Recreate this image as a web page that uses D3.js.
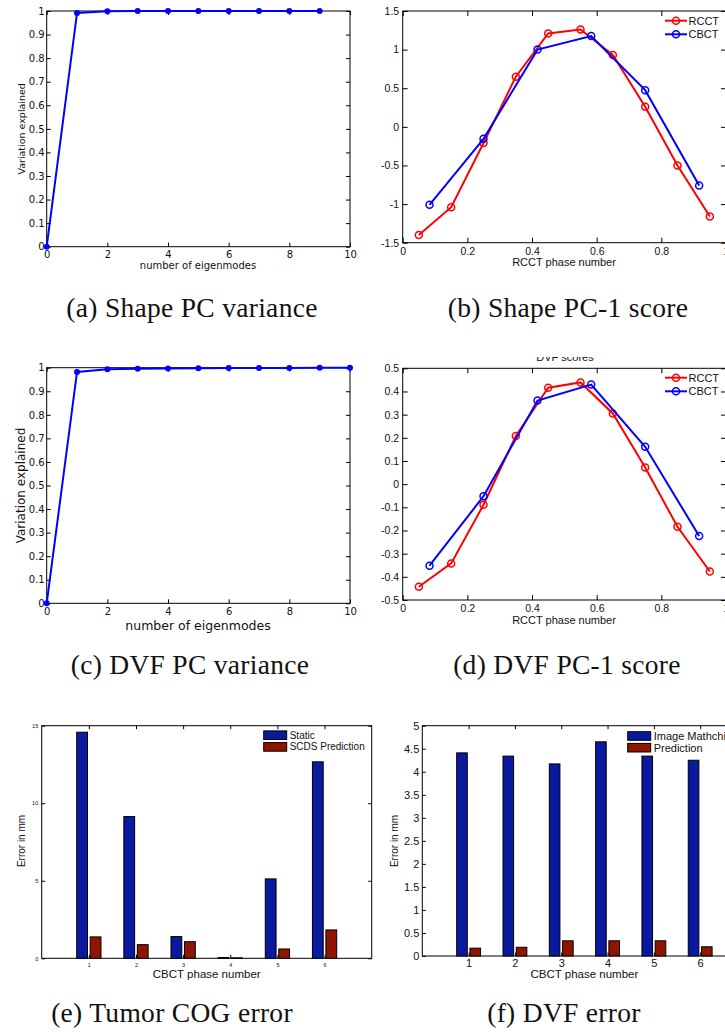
<!DOCTYPE html>
<html>
<head>
<meta charset="utf-8">
<script src="https://cdn.jsdelivr.net/npm/d3@7"></script>
<style>
  body { margin: 0; background: #fff; }
  svg { display: block; }
</style>
</head>
<body>
<svg id="fig" width="725" height="1036"></svg>
<script>
// ---- data ----
var modesShape = [0, 1, 2, 3, 4, 5, 6, 7, 8, 9];
var varShape = [0, 0.992, 0.999, 1.0, 1.0, 1.0, 1.0, 1.0, 1.0, 1.0];
var modesDVF = [0, 1, 2, 3, 4, 5, 6, 7, 8, 9, 10];
var varDVF = [0, 0.982, 0.993, 0.996, 0.997, 0.998, 0.999, 0.999, 0.999, 1.0, 1.0];

var rcctPhase = [0.05, 0.15, 0.25, 0.35, 0.45, 0.55, 0.65, 0.75, 0.85, 0.95];
var cbctPhase = [0.083, 0.25, 0.417, 0.583, 0.75, 0.917];
var shapeRCCT = [-1.40, -1.04, -0.21, 0.65, 1.21, 1.26, 0.93, 0.26, -0.50, -1.16];
var shapeCBCT = [-1.01, -0.155, 1.0, 1.175, 0.475, -0.76];
var dvfRCCT = [-0.443, -0.342, -0.089, 0.208, 0.416, 0.439, 0.305, 0.072, -0.184, -0.377];
var dvfCBCT = [-0.352, -0.052, 0.361, 0.430, 0.161, -0.224];

var cbctPhases = [1, 2, 3, 4, 5, 6];
var cogStatic = [14.58, 9.14, 1.40, 0.05, 5.12, 12.67];
var cogSCDS = [1.38, 0.88, 1.07, 0.03, 0.60, 1.83];
var dvfMatch = [4.41, 4.34, 4.17, 4.65, 4.34, 4.25];
var dvfPred = [0.17, 0.19, 0.33, 0.33, 0.33, 0.20];

var captions = ['(a) Shape PC variance', '(b) Shape PC-1 score', '(c) DVF PC variance',
  '(d) DVF PC-1 score', '(e) Tumor COG error', '(f) DVF error'];

var svg = d3.select('#fig');
var MPL = 'DejaVu Sans', MAT = 'Liberation Sans';
var BAR_BLUE = '#0a1a9e', BAR_RED = '#8f1500';

var numFmt = function(d) {
  var v = +d.toFixed(2);
  return v === 0 ? '0' : String(v);
};

// box with inward ticks on all four sides
var frame = function(g, x, y, o) {
  var x0 = x.range()[0], x1 = x.range()[1], y0 = y.range()[0], y1 = y.range()[1];
  var bottom = g.append('g').attr('transform', 'translate(0,' + y0 + ')')
    .call(d3.axisBottom(x).tickValues(o.xt).tickFormat(o.xf || numFmt)
      .tickSizeInner(-o.tl).tickSizeOuter(0).tickPadding(o.xpad));
  var left = g.append('g').attr('transform', 'translate(' + x0 + ',0)')
    .call(d3.axisLeft(y).tickValues(o.yt).tickFormat(o.yf || numFmt)
      .tickSizeInner(-o.tl).tickSizeOuter(0).tickPadding(o.ypad));
  g.append('g').attr('transform', 'translate(0,' + y1 + ')')
    .call(d3.axisTop(x).tickValues(o.xt).tickFormat('').tickSizeInner(-o.tl).tickSizeOuter(0));
  g.append('g').attr('transform', 'translate(' + x1 + ',0)')
    .call(d3.axisRight(y).tickValues(o.yt).tickFormat('').tickSizeInner(-o.tl).tickSizeOuter(0));
  g.selectAll('.domain').remove();
  g.selectAll('.tick line').attr('stroke', '#000');
  bottom.selectAll('text').attr('font-family', o.font).attr('font-size', o.xfs).attr('fill', '#111');
  left.selectAll('text').attr('font-family', o.font).attr('font-size', o.yfs).attr('fill', '#111');
  g.append('rect').attr('x', x0).attr('y', y1).attr('width', x1 - x0).attr('height', y0 - y1)
    .attr('fill', 'none').attr('stroke', '#000').attr('stroke-width', 1);
};

var label = function(g, txt, cx, cy, font, size, rotate) {
  g.append('text').text(txt)
    .attr('transform', 'translate(' + cx + ',' + cy + ')' + (rotate ? ' rotate(-90)' : ''))
    .attr('text-anchor', 'middle').attr('dominant-baseline', 'central')
    .attr('font-family', font).attr('font-size', size).attr('fill', '#111');
};

// ---- (a), (c): variance explained ----
var drawVariance = function(modes, vals, top, bottom, o) {
  var g = svg.append('g');
  var x = d3.scaleLinear().domain([0, 10]).range([46.7, 350]);
  var y = d3.scaleLinear().domain([0, 1]).range([bottom, top]);
  frame(g, x, y, { xt: d3.range(0, 11, 2), yt: d3.range(0, 1.01, 0.1), tl: 4,
    xpad: o.xpad, ypad: 2, font: MPL, xfs: 10, yfs: 10 });
  var pts = modes.map(function(m, i) { return [m, vals[i]]; });
  g.append('path').datum(pts)
    .attr('d', d3.line().x(function(d) { return x(d[0]); }).y(function(d) { return y(d[1]); }))
    .attr('fill', 'none').attr('stroke', '#0000ff').attr('stroke-width', 2);
  g.selectAll('circle.m').data(pts).enter().append('circle')
    .attr('cx', function(d) { return x(d[0]); }).attr('cy', function(d) { return y(d[1]); })
    .attr('r', 3).attr('fill', '#0000ff');
  label(g, 'Variation explained', 21, (top + bottom) / 2, MPL, o.yls, true);
  label(g, 'number of eigenmodes', 198, o.xly, MPL, o.xls, false);
};

drawVariance(modesShape, varShape, 11, 246.7, { xpad: 4, yls: 9.5, xls: 10, xly: 265.5 });
drawVariance(modesDVF, varDVF, 367.7, 603.3, { xpad: 5, yls: 12, xls: 12.5, xly: 625 });

// ---- (b), (d): PC-1 scores ----
var drawScores = function(rc, cb, top, bottom, dom, step, legY) {
  var g = svg.append('g');
  var x = d3.scaleLinear().domain([0, 1]).range([402.7, 726]);
  var y = d3.scaleLinear().domain(dom).range([bottom, top]);
  var yt = d3.range(Math.round((dom[1] - dom[0]) / step) + 1).map(function(i) { return dom[0] + i * step; });
  frame(g, x, y, { xt: [0, 0.2, 0.4, 0.6, 0.8, 1], yt: yt, tl: 5,
    xpad: 4.5, ypad: 3.5, font: MAT, xfs: 10.5, yfs: 10.5 });
  var series = [
    { name: 'RCCT', color: '#ff0000', xs: rcctPhase, ys: rc },
    { name: 'CBCT', color: '#0000ff', xs: cbctPhase, ys: cb }
  ];
  series.forEach(function(s, k) {
    var pts = s.xs.map(function(v, i) { return [v, s.ys[i]]; });
    g.append('path').datum(pts)
      .attr('d', d3.line().x(function(d) { return x(d[0]); }).y(function(d) { return y(d[1]); }))
      .attr('fill', 'none').attr('stroke', s.color).attr('stroke-width', 2);
    g.selectAll('circle.s' + k).data(pts).enter().append('circle')
      .attr('cx', function(d) { return x(d[0]); }).attr('cy', function(d) { return y(d[1]); })
      .attr('r', 3.5).attr('fill', 'none').attr('stroke', s.color).attr('stroke-width', 1.5);
    var ly = legY + k * 13.6;
    g.append('line').attr('x1', 665).attr('x2', 687).attr('y1', ly).attr('y2', ly)
      .attr('stroke', s.color).attr('stroke-width', 2);
    g.append('circle').attr('cx', 676).attr('cy', ly).attr('r', 3.5)
      .attr('fill', 'none').attr('stroke', s.color).attr('stroke-width', 1.5);
    g.append('text').text(s.name).attr('x', 688.5).attr('y', ly)
      .attr('dominant-baseline', 'central').attr('font-family', MAT).attr('font-size', 11).attr('fill', '#111');
  });
  label(g, 'RCCT phase number', 564, bottom + 19.5, MAT, 11, false);
  return g;
};

drawScores(shapeRCCT, shapeCBCT, 11, 242.7, [-1.5, 1.5], 0.5, 20.7);
var gd = drawScores(dvfRCCT, dvfCBCT, 368.3, 600, [-0.5, 0.5], 0.1, 377.7);

// title of (d), cut off at the top in the original
svg.append('defs').append('clipPath').attr('id', 'titleClip')
  .append('rect').attr('x', 400).attr('y', 357).attr('width', 325).attr('height', 10);
gd.append('text').text('DVF scores').attr('x', 565).attr('y', 361)
  .attr('text-anchor', 'middle').attr('clip-path', 'url(#titleClip)')
  .attr('font-family', MAT).attr('font-size', 11).attr('fill', '#111');

// ---- (e), (f): grouped bars ----
var drawBars = function(a, b, names, o) {
  var g = svg.append('g');
  var x = d3.scaleLinear().domain([0, 7]).range(o.xr);
  var y = d3.scaleLinear().domain([0, o.ymax]).range([o.bottom, 725.7]);
  frame(g, x, y, { xt: cbctPhases, yt: d3.range(0, o.ymax + 0.001, o.ystep), tl: 3.5,
    xpad: o.xpad, ypad: o.ypad, font: MAT, xfs: o.tfs, yfs: o.tfs });
  var bw = x(0.229) - x(0);
  [[a, BAR_BLUE, -0.143], [b, BAR_RED, 0.143]].forEach(function(s) {
    g.selectAll(null).data(s[0]).enter().append('rect')
      .attr('x', function(d, i) { return x(cbctPhases[i] + s[2]) - bw / 2; })
      .attr('y', function(d) { return y(d); })
      .attr('width', bw)
      .attr('height', function(d) { return y(0) - y(d); })
      .attr('fill', s[1]).attr('stroke', '#000').attr('stroke-width', 1);
  });
  // legend
  [[BAR_BLUE, names[0]], [BAR_RED, names[1]]].forEach(function(s, k) {
    var ly = o.legY + k * 11.7;
    g.append('rect').attr('x', o.legX).attr('y', ly - 4.3).attr('width', 23).attr('height', 8.6)
      .attr('fill', s[0]).attr('stroke', '#000').attr('stroke-width', 1);
    g.append('text').text(s[1]).attr('x', o.legX + 26).attr('y', ly)
      .attr('dominant-baseline', 'central').attr('font-family', MAT).attr('font-size', o.lfs).attr('fill', '#111');
  });
  label(g, 'Error in mm', o.ylx, 841, MAT, 10, true);
  label(g, 'CBCT phase number', (o.xr[0] + o.xr[1]) / 2, 973.5, MAT, 11.5, false);
};

drawBars(cogStatic, cogSCDS, ['Static', 'SCDS Prediction'],
  { xr: [41.7, 371.7], bottom: 958.3, ymax: 15, ystep: 5, tfs: 5.5, xpad: 4.5, ypad: 3.5,
    legX: 263.7, legY: 735.2, lfs: 10, ylx: 21.7 });
drawBars(dvfMatch, dvfPred, ['Image Mathching', 'Prediction'],
  { xr: [422.3, 746.5], bottom: 956, ymax: 5, ystep: 0.5, tfs: 11, xpad: 3, ypad: 3,
    legX: 627.7, legY: 736, lfs: 11, ylx: 394.3 });

// ---- sub-captions ----
var capPos = [[192, 307], [568, 307], [190, 664], [567, 664], [172, 1012], [564, 1012]];
svg.selectAll('text.cap').data(captions).enter().append('text')
  .attr('class', 'cap').text(function(d) { return d; })
  .attr('x', function(d, i) { return capPos[i][0]; })
  .attr('y', function(d, i) { return capPos[i][1]; })
  .attr('text-anchor', 'middle').attr('dominant-baseline', 'central')
  .attr('font-family', 'Liberation Serif').attr('font-size', 27.5)
  .attr('letter-spacing', 0.3).attr('fill', '#111');
</script>
</body>
</html>
